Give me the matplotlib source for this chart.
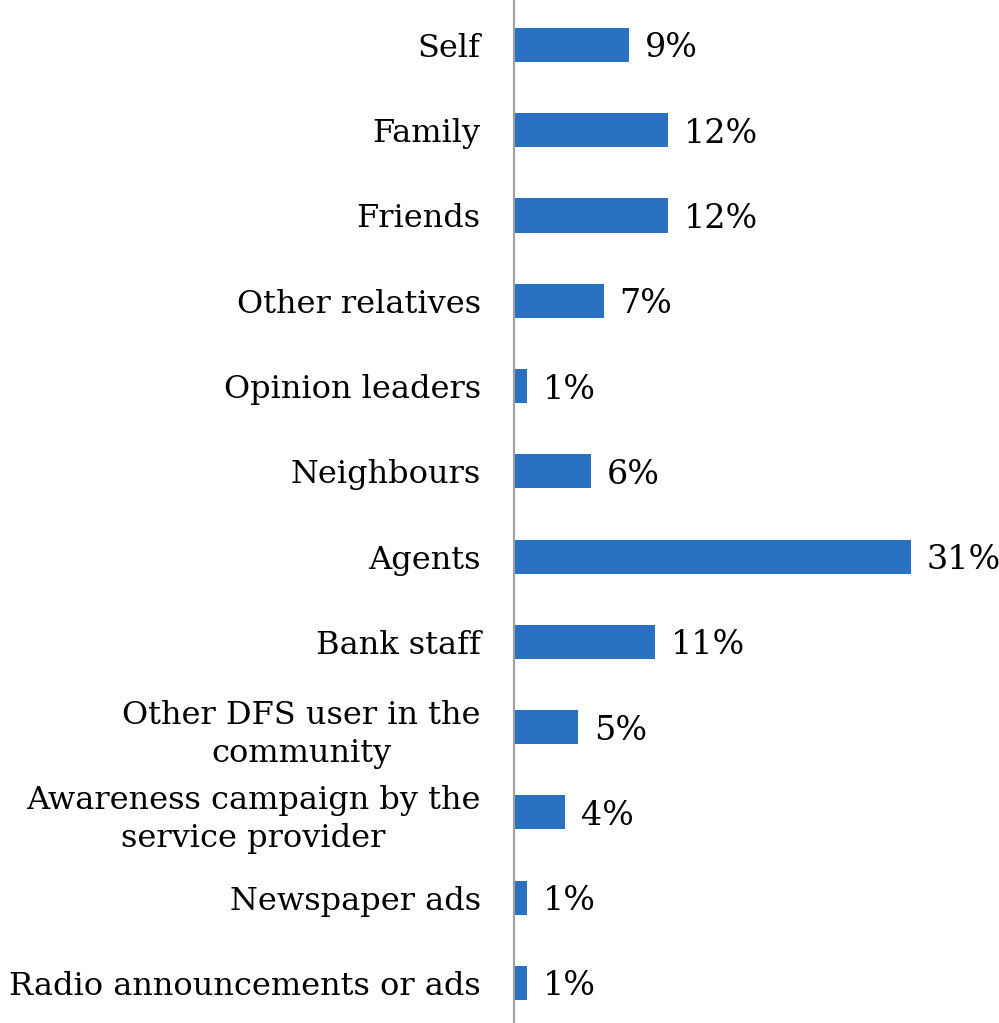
import matplotlib
matplotlib.use('Agg')
import matplotlib.pyplot as plt

categories = ['Self', 'Family', 'Friends', 'Other relatives', 'Opinion leaders',
              'Neighbours', 'Agents', 'Bank staff',
              'Other DFS user in the\ncommunity',
              'Awareness campaign by the\nservice provider',
              'Newspaper ads', 'Radio announcements or ads']
values = [9, 12, 12, 7, 1, 6, 31, 11, 5, 4, 1, 1]

plt.rcParams['font.family'] = ['DejaVu Serif']

fig = plt.figure(figsize=(9.99, 10.23), dpi=100)
ax = fig.add_axes([514 / 999, 0, 1 - 514 / 999, 1])

pos = list(range(len(categories)))
ax.barh(pos, values, height=0.4, color='#2B71C1')
for p, v in zip(pos, values):
    ax.text(v + 1.25, p, f'{v}%', va='center_baseline', ha='left', fontsize=24, clip_on=False)

ax.set_ylim(11.47, -0.527)
ax.set_xlim(0, 37.9)
ax.set_yticks(pos)
ax.set_yticklabels(categories, fontsize=23, multialignment='center', linespacing=1.3)
ax.tick_params(axis='y', length=0, pad=24)
ax.set_xticks([])
for s in ['top', 'right', 'bottom']:
    ax.spines[s].set_visible(False)
ax.spines['left'].set_color('#A0A0A0')
ax.spines['left'].set_linewidth(1.5)

fig.savefig('out.png', dpi=100)
